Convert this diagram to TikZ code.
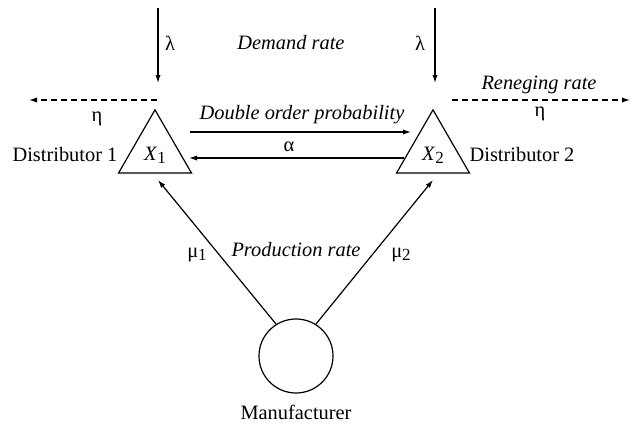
\documentclass[tikz,border=0pt]{standalone}
\usepackage{fontspec}
\setmainfont{Liberation Serif}
\usetikzlibrary{arrows.meta,shapes.geometric}
\begin{document}
\begin{tikzpicture}[x=0.5pt,y=-0.5pt,
  font=\fontsize{10.2}{12}\selectfont,
  line width=0.6pt,
  arr/.style={-{Latex[length=4pt,width=2.6pt]}},
  dsh/.style={arr,dash pattern=on 3pt off 2pt},
  tri/.style={draw,regular polygon,regular polygon sides=3,minimum size=42.15pt,inner sep=0pt},
  lbl/.style={inner sep=0pt}]
\useasboundingbox (0,0) rectangle (632,423);
% distributors
\node[tri] (t1) at (155,152) {};
\node[tri] (t2) at (433,152) {};
\node[lbl] (x1) at (155,155) {\textit{X}\raisebox{-0.35ex}{\fontsize{8.5}{10}\selectfont 1}};
\node[lbl] (x2) at (433,155) {\textit{X}\raisebox{-0.35ex}{\fontsize{8.5}{10}\selectfont 2}};
\node[lbl,anchor=east] (d1) at (118,155) {Distributor 1};
\node[lbl,anchor=west] (d2) at (469,155) {Distributor 2};
% manufacturer
\node[draw,circle,minimum size=37pt,inner sep=0pt] (m) at (296,356) {};
\node[lbl] (mt) at (296,412) {Manufacturer};
% demand arrows
\coordinate (l1s) at (158,8);  \coordinate (l1e) at (158,83);
\coordinate (l2s) at (435,8);  \coordinate (l2e) at (435,83);
\draw[arr] (l1s) -- (l1e);
\draw[arr] (l2s) -- (l2e);
\node[lbl] (lam1) at (170,43) {λ};
\node[lbl] (lam2) at (420,43) {λ};
\node[lbl] (dr) at (291,43) {\textit{Demand rate}};
% reneging
\coordinate (r1s) at (157,100); \coordinate (r1e) at (29,100);
\coordinate (r2s) at (452,100); \coordinate (r2e) at (630,100);
\draw[dsh] (r1s) -- (r1e);
\draw[dsh] (r2s) -- (r2e);
\node[lbl] (eta1) at (97,119) {η};
\node[lbl] (eta2) at (540,114) {η};
\node[lbl] (rr) at (539,85) {\textit{Reneging rate}};
% double order / alpha
\coordinate (ds) at (190,132); \coordinate (de) at (411,132);
\coordinate (as) at (404,158); \coordinate (ae) at (189,158);
\draw[arr] (ds) -- (de);
\draw[arr] (as) -- (ae);
\node[lbl] (dop) at (302,115) {\textit{Double order probability}};
\node[lbl] (al) at (289,147) {α};
% production
\coordinate (p1) at (158,180);
\coordinate (p2) at (433,180);
\draw[arr] (m.122) -- (p1);
\draw[arr] (m.58) -- (p2);
\node[lbl] (mu1) at (197,255) {μ\raisebox{-0.35ex}{\fontsize{8.5}{10}\selectfont 1}};
\node[lbl] (mu2) at (401,255) {μ\raisebox{-0.35ex}{\fontsize{8.5}{10}\selectfont 2}};
\node[lbl] (pr) at (296,250) {\textit{Production rate}};
\end{tikzpicture}
\end{document}
